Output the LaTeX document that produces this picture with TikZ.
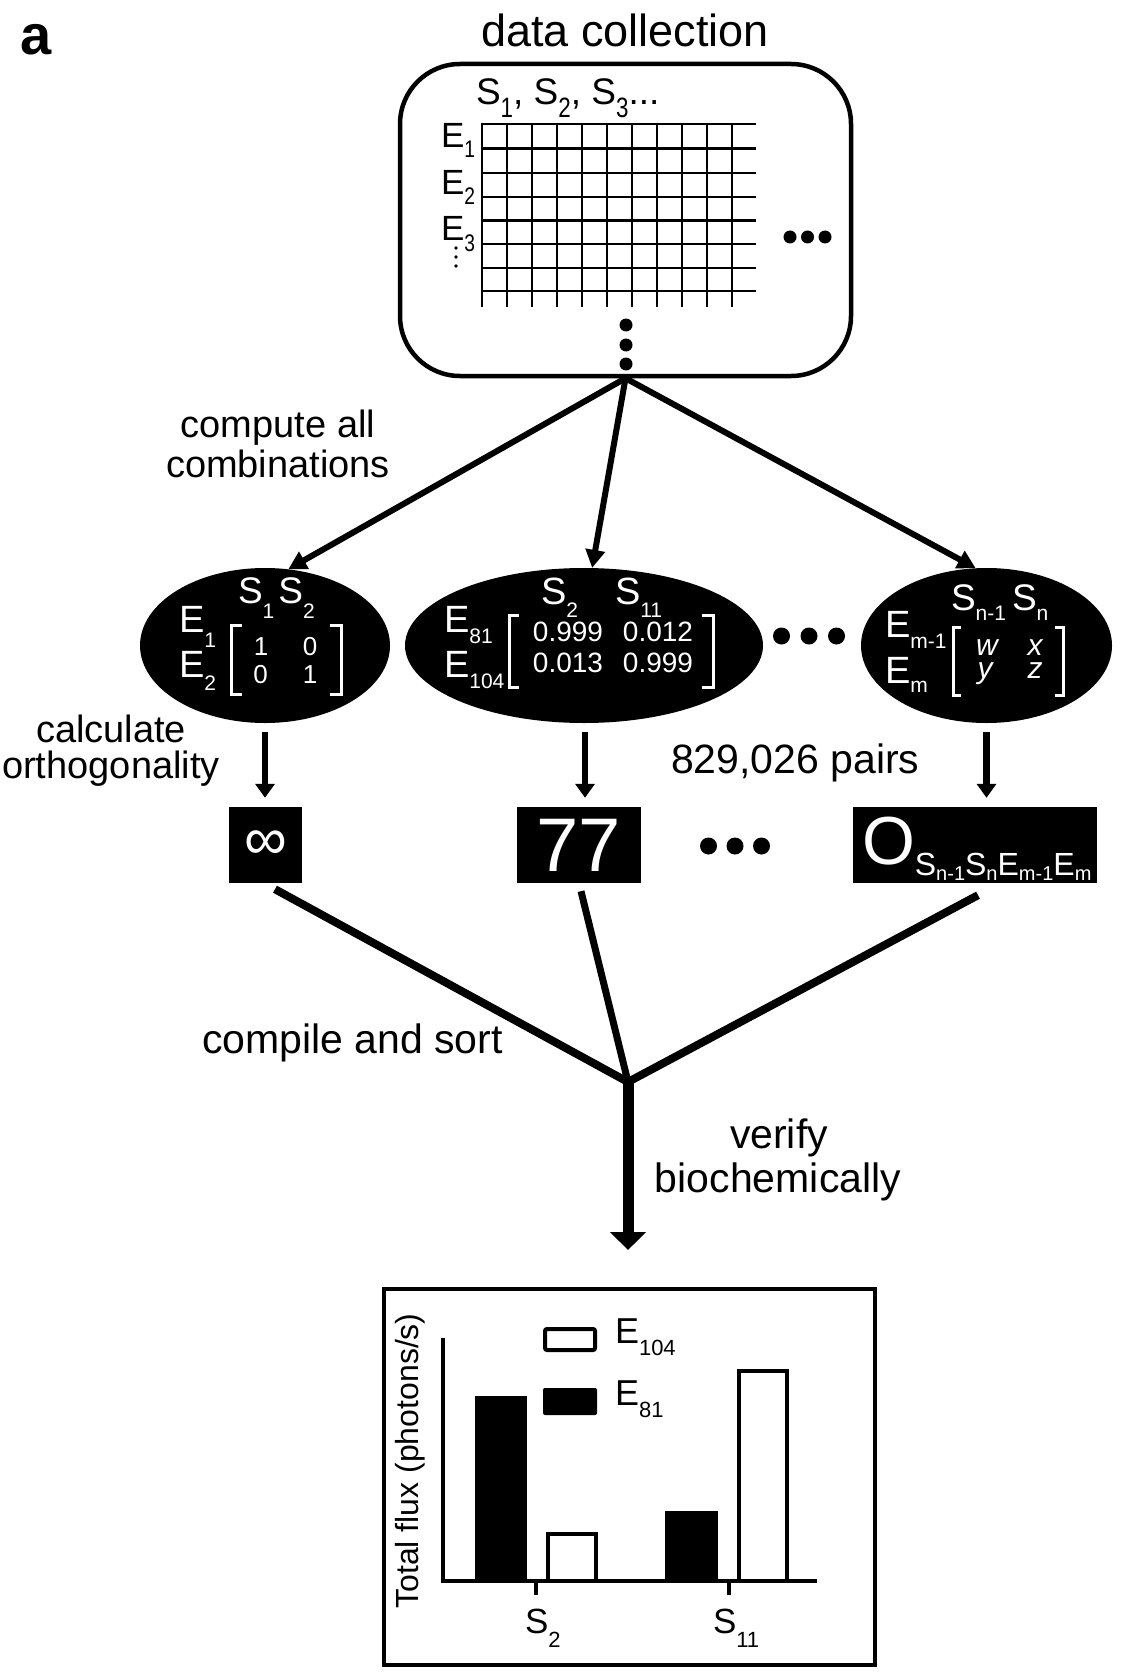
\documentclass[tikz,border=0pt]{standalone}
\usepackage{fontspec}
\setmainfont{Liberation Sans}
\usepackage{graphicx}
\usetikzlibrary{arrows.meta,shapes.geometric}
\newcommand\fsz[1]{\fontsize{#1pt}{#1pt}\selectfont}
\newcommand\sbx[3]{\raisebox{-#2pt}{\fsz{#1}#3}}
\newcommand\csbx[3]{\raisebox{-#2pt}{\fsz{#1}\scalebox{0.8}[1]{#3}}}
\begin{document}
\begin{tikzpicture}[x=1pt,y=-1pt,
  txt/.style={inner sep=0pt, outer sep=0pt},
  wtxt/.style={txt, text=white},
  blob/.style={ellipse, fill=black, inner sep=0pt, minimum height=155pt},
  sq/.style={fill=black, inner sep=0pt, minimum height=76pt, text=white},
  toparr/.style={line width=6pt, -{Triangle[length=18pt,width=19pt]}},
  dnarr/.style={line width=6.5pt, -{Triangle[length=14pt,width=19pt]}},
  bigarr/.style={line width=11pt, -{Triangle[length=18pt,width=35pt]}},
  brk/.style={white, line width=3pt},
  grd/.style={line width=2.8pt},
  axl/.style={line width=4pt}]
\useasboundingbox (0,0) rectangle (1125,1680);
\fill[white] (0,0) rectangle (1125,1680);

% panel label
\node[txt, anchor=base west, font=\bfseries\fsz{56}] (lbla) at (20,55) {a};

% data collection
\node[txt, anchor=base west, font=\fsz{45}] (ttl) at (481,47) {data collection};
\node[draw, line width=4.5pt, rounded corners=60pt, minimum width=451pt, minimum height=312pt, inner sep=0pt] (dbox) at (625.5,220) {};
\foreach \y in {124,148.5,173,197,220.5,244,268,291}
  \draw[grd] (481,\y) -- (756,\y);
\foreach \i in {0,...,10}
  \draw[grd] (482+25*\i,123) -- (482+25*\i,307);
\node[txt, anchor=base west, font=\fsz{37}] (slab) at (476,105) {S\csbx{28}{13}{1}, S\csbx{28}{13}{2}, S\csbx{28}{13}{3}...};
\node[txt, anchor=base west, font=\fsz{35}] (re1) at (441,148) {E\csbx{24}{10}{1}};
\node[txt, anchor=base west, font=\fsz{35}] (re2) at (441,195) {E\csbx{24}{10}{2}};
\node[txt, anchor=base west, font=\fsz{35}] (re3) at (441,241) {E\csbx{24}{10}{3}};
\foreach \y in {248,257,266} \fill (456,\y) circle (1.8);
\foreach \x in {790,807.5,825} \fill (\x,237) circle (6.5);
\foreach \y in {325,345,364} \fill (626,\y) circle (6.5);

% ellipses
\node[blob, minimum width=250pt] (e1) at (265,645.5) {};
\node[blob, minimum width=358pt] (e2) at (584,645.5) {};
\node[blob, minimum width=251pt] (e3) at (986.5,645.5) {};

\draw[toparr] (dbox.south) -- (e1.73);
\draw[toparr] (dbox.south) -- (e2.84);
\draw[toparr] (dbox.south) -- (e3.98);

% labels left
\node[txt, anchor=base, font=\fsz{38}] (lc1) at (278,437) {compute all};
\node[txt, anchor=base, font=\fsz{38}] (lc2) at (278,477) {combinations};
\node[txt, anchor=base, font=\fsz{38}] (lo1) at (111,742) {calculate};
\node[txt, anchor=base, font=\fsz{38}] (lo2) at (111,778) {orthogonality};

% ellipse 1 content
\node[wtxt, anchor=base west, font=\fsz{37}] (e1s) at (238,603) {S\sbx{21}{15}{1}\hspace{4pt}S\sbx{21}{15}{2}};
\node[wtxt, anchor=base west, font=\fsz{38}] (e1a) at (179,632) {E\sbx{21}{15}{1}};
\node[wtxt, anchor=base west, font=\fsz{38}] (e1b) at (179,677) {E\sbx{21}{13}{2}};
\node[wtxt, anchor=base, font=\fsz{26}] (m11) at (261,655) {1};
\node[wtxt, anchor=base, font=\fsz{26}] (m12) at (310,655) {0};
\node[wtxt, anchor=base, font=\fsz{26}] (m21) at (260.5,683) {0};
\node[wtxt, anchor=base, font=\fsz{26}] (m22) at (310,683) {1};
\draw[brk] (242,625) -- (231.5,625) -- (231.5,694) -- (242,694);
\draw[brk] (330,625) -- (341.5,625) -- (341.5,694) -- (330,694);

% ellipse 2 content
\node[wtxt, anchor=base west, font=\fsz{38}] (e2s) at (541,604) {S\sbx{21}{13}{2}};
\node[wtxt, anchor=base west, font=\fsz{38}] (e2t) at (615,604) {S\sbx{21}{13}{11}};
\node[wtxt, anchor=base west, font=\fsz{38}] (e2a) at (444,632) {E\sbx{21}{11}{81}};
\node[wtxt, anchor=base west, font=\fsz{38}] (e2b) at (444,677) {E\sbx{21}{11}{104}};
\node[wtxt, anchor=base, font=\fsz{28}] (n11) at (568,641) {0.999};
\node[wtxt, anchor=base, font=\fsz{28}] (n12) at (658,641) {0.012};
\node[wtxt, anchor=base, font=\fsz{28}] (n21) at (568,672) {0.013};
\node[wtxt, anchor=base, font=\fsz{28}] (n22) at (658,672) {0.999};
\draw[brk] (519,615.5) -- (509.5,615.5) -- (509.5,687) -- (519,687);
\draw[brk] (702,615.5) -- (713.5,615.5) -- (713.5,687) -- (702,687);

% ellipse 3 content
\node[wtxt, anchor=base west, font=\fsz{37}] (e3s) at (951,610) {S\sbx{21}{10}{n-1}\hspace{6pt}S\sbx{21}{10}{n}};
\node[wtxt, anchor=base west, font=\fsz{38}] (e3a) at (885,637) {E\sbx{21}{11}{m-1}};
\node[wtxt, anchor=base west, font=\fsz{38}] (e3b) at (885,683) {E\sbx{21}{9}{m}};
\node[wtxt, anchor=base, font=\itshape\fsz{30}] (vw) at (987,655) {w};
\node[wtxt, anchor=base, font=\itshape\fsz{30}] (vx) at (1035,655) {x};
\node[wtxt, anchor=base, font=\itshape\fsz{30}] (vy) at (985,678) {y};
\node[wtxt, anchor=base, font=\itshape\fsz{30}] (vz) at (1035,678) {z};
\draw[brk] (961,627.5) -- (953.5,627.5) -- (953.5,695) -- (961,695);
\draw[brk] (1055,627.5) -- (1063.5,627.5) -- (1063.5,695) -- (1055,695);

\foreach \x in {781.5,809,836.5} \fill (\x,636) circle (8.5);

% result boxes
\node[sq, minimum width=73pt, font=\fsz{60}] (b1) at (265.5,845) {∞};
\node[sq, minimum width=124pt, font=\fsz{76}] (b2) at (579,845) {77};
\node[sq, minimum width=244pt] (b3) at (975,845) {};
\node[wtxt, anchor=base west, font=\fsz{68}] (otx) at (862,864) {O\raisebox{-11pt}{\fsz{32}S\sbx{20}{5}{n-1}S\sbx{20}{5}{n}E\sbx{20}{5}{m-1}E\sbx{20}{5}{m}}};
\foreach \x in {708.5,735,761.5} \fill (\x,846) circle (8.5);

\node[txt, anchor=base west, font=\fsz{41}] (pairs) at (671,773) {829,026 pairs};

% down arrows
\coordinate (d1s) at ([yshift=-9pt]e1.south);
\coordinate (d1e) at ([yshift=9pt]b1.north);
\coordinate (d2s) at ([yshift=-9pt]e2.south);
\coordinate (d2e) at ([yshift=9pt]b2.north);
\coordinate (d3s) at ([yshift=-9pt]e3.south);
\coordinate (d3e) at ([yshift=9pt]b3.north);
\draw[dnarr] (d1s) -- (d1s |- d1e);
\draw[dnarr] ([xshift=1pt]d2s) -- ([xshift=1pt]d2s |- d2e);
\draw[dnarr] (d3s) -- (d3s |- d3e);

% chart
\node[draw, line width=4pt, minimum width=491pt, minimum height=376pt, inner sep=0pt] (chart) at (629.5,1477) {};
\coordinate (tipc) at ([yshift=37pt]chart.north);

% compile lines
\coordinate (s1) at ([xshift=9.5pt,yshift=-6pt]b1.south);
\coordinate (s2) at ([xshift=2pt,yshift=-8pt]b2.south);
\coordinate (s3) at ([xshift=3pt,yshift=-12pt]b3.south);
\coordinate (jn) at (628,1082);
\draw[line width=8pt, line join=miter] (s1) -- (jn) -- (s3);
\draw[line width=7pt] (s2) -- (jn);
\draw[bigarr] ([yshift=4pt]jn) -- (jn |- tipc);

\node[txt, anchor=base west, font=\fsz{41}] (cs) at (202,1053) {compile and sort};
\node[txt, anchor=base, font=\fsz{41}] (vb1) at (779,1148) {verify};
\node[txt, anchor=base, font=\fsz{41}] (vb2) at (778,1192) {biochemically};

% chart contents
\fill (475,1396) rectangle (527,1582);
\draw[axl] (548,1582) -- (548,1534) -- (596,1534) -- (596,1582);
\fill (665,1511) rectangle (718,1582);
\draw[axl] (739,1582) -- (739,1371) -- (787,1371) -- (787,1582);
\draw[axl] (442.5,1338) -- (442.5,1581) -- (817,1581);
\draw[axl] (535.5,1581) -- (535.5,1595);
\draw[axl] (728.5,1581) -- (728.5,1595);
\draw[axl, rounded corners=2pt] (545,1329) rectangle (595,1350);
\fill[rounded corners=2pt] (543,1388) rectangle (597,1415);
\node[txt, anchor=base west, font=\fsz{36}] (l104) at (615,1343) {E\sbx{22}{12}{104}};
\node[txt, anchor=base west, font=\fsz{36}] (l81) at (615,1405) {E\sbx{22}{12}{81}};
\node[txt, anchor=base west, font=\fsz{35}] (xs2) at (525,1633) {S\sbx{22}{14}{2}};
\node[txt, anchor=base west, font=\fsz{35}] (xs11) at (713,1633) {S\sbx{22}{14}{11}};
\node[txt, rotate=90, font=\fsz{32}] (ylab) at (410,1461) {Total flux (photons/s)};
\end{tikzpicture}
\end{document}
